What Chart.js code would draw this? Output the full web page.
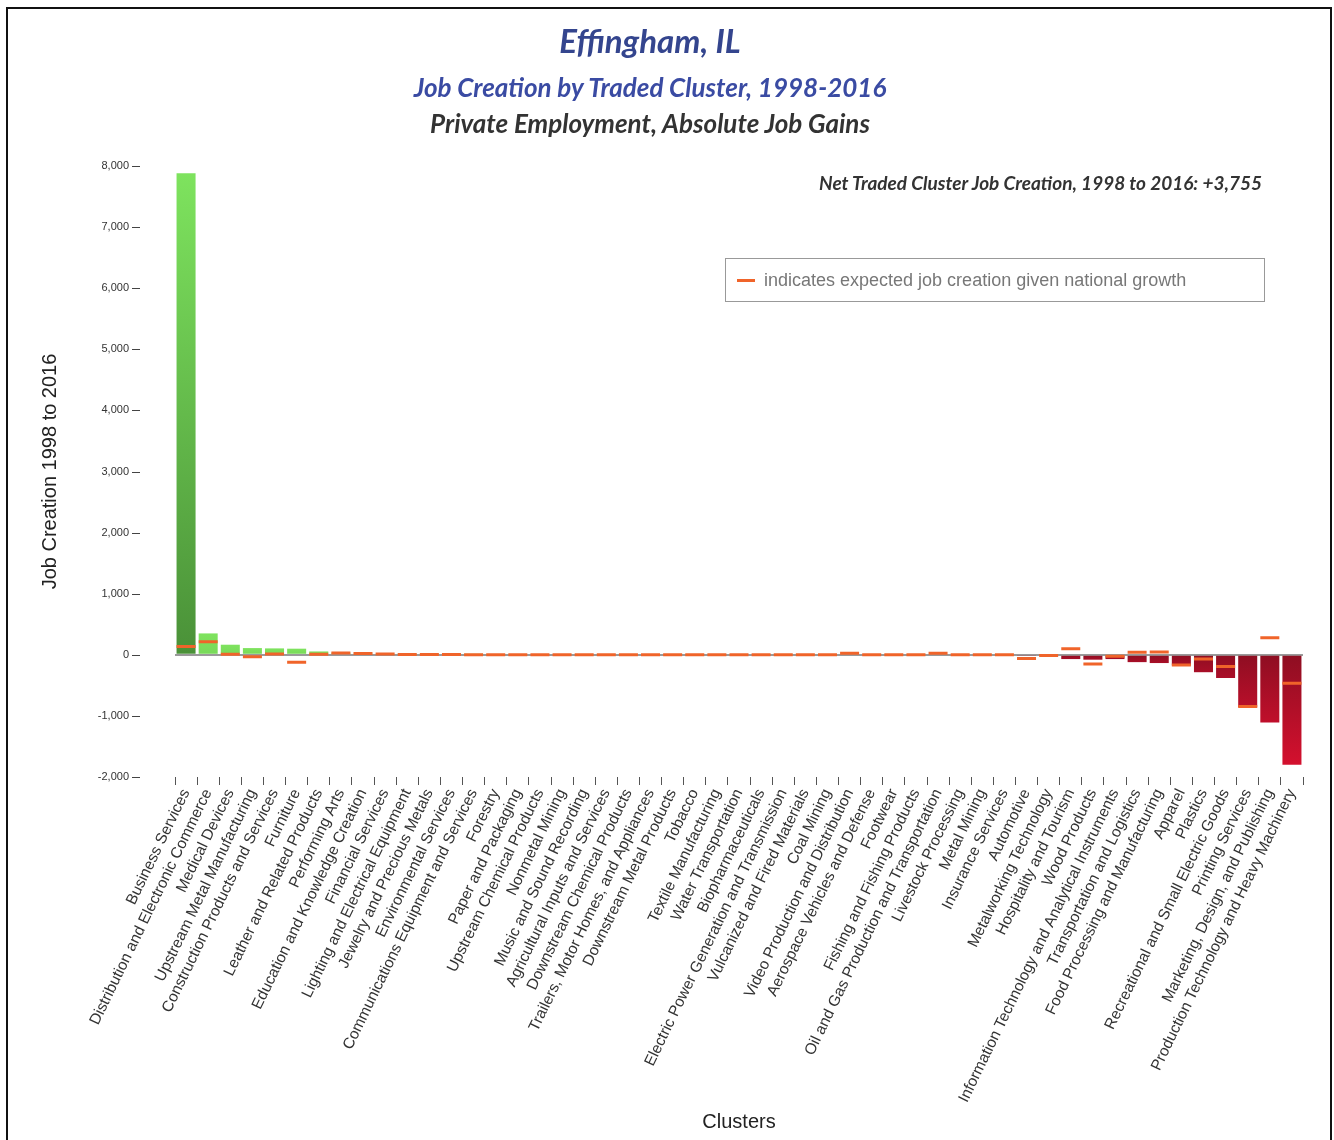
<!DOCTYPE html>
<html>
<head>
<meta charset="utf-8">
<script src="https://cdn.jsdelivr.net/npm/chart.js@4.4.1/dist/chart.umd.min.js"></script>
<style>
  html, body { margin: 0; padding: 0; background: #fff; }
  #wrap { position: relative; width: 1334px; height: 1140px; overflow: hidden; }
  #frame { position: absolute; left: 6px; top: 7px; width: 1326px; height: 1140px; border: 2px solid #111; box-sizing: border-box; }
  canvas { position: absolute; left: 0; top: 0; }
  .t { position: absolute; left: 0; width: 1300px; text-align: center; font-family: Lato, sans-serif; font-style: italic; font-weight: bold; white-space: nowrap; }
  #t1 { top: 21px; font-size: 33px; color: #34458e; line-height: 38px; }
  #t2 { top: 72px; font-size: 26px; color: #3a4ba3; line-height: 30px; }
  #t3 { top: 108px; font-size: 26px; color: #333; line-height: 30px; }
  #net { position: absolute; right: 72px; top: 172px; font-family: Lato, sans-serif; font-style: italic; font-weight: bold; font-size: 19px; color: #333; line-height: 22px; white-space: nowrap; }
  #key { position: absolute; left: 725px; top: 258px; width: 540px; height: 44px; border: 1px solid #999; box-sizing: border-box; font-family: "Liberation Sans", Arial, sans-serif; font-size: 18px; color: #777; }
  #key span.dash { position: absolute; left: 11px; top: 20px; width: 18px; height: 3px; background: #f0642a; }
  #key span.txt { position: absolute; left: 38px; top: 10px; line-height: 22px; }
</style>
</head>
<body>
<div id="wrap">
  <canvas id="chart" width="1334" height="1140"></canvas>
  <div id="frame"></div>
  <div class="t" id="t1">Effingham, IL</div>
  <div class="t" id="t2">Job Creation by Traded Cluster, 1998-2016</div>
  <div class="t" id="t3">Private Employment, Absolute Job Gains</div>
  <div id="net">Net Traded Cluster Job Creation, 1998 to 2016: +3,755</div>
  <div id="key"><span class="dash"></span><span class="txt">indicates expected job creation given national growth</span></div>
</div>
<script>
const clusters = [
  'Business Services', 'Distribution and Electronic Commerce', 'Medical Devices',
  'Upstream Metal Manufacturing', 'Construction Products and Services', 'Furniture',
  'Leather and Related Products', 'Performing Arts', 'Education and Knowledge Creation',
  'Financial Services', 'Lighting and Electrical Equipment', 'Jewelry and Precious Metals',
  'Environmental Services', 'Communications Equipment and Services', 'Forestry',
  'Paper and Packaging', 'Upstream Chemical Products', 'Nonmetal Mining',
  'Music and Sound Recording', 'Agricultural Inputs and Services', 'Downstream Chemical Products',
  'Trailers, Motor Homes, and Appliances', 'Downstream Metal Products', 'Tobacco',
  'Textile Manufacturing', 'Water Transportation', 'Biopharmaceuticals',
  'Electric Power Generation and Transmission', 'Vulcanized and Fired Materials', 'Coal Mining',
  'Video Production and Distribution', 'Aerospace Vehicles and Defense', 'Footwear',
  'Fishing and Fishing Products', 'Oil and Gas Production and Transportation', 'Livestock Processing',
  'Metal Mining', 'Insurance Services', 'Automotive',
  'Metalworking Technology', 'Hospitality and Tourism', 'Wood Products',
  'Information Technology and Analytical Instruments', 'Transportation and Logistics', 'Food Processing and Manufacturing',
  'Apparel', 'Plastics', 'Recreational and Small Electric Goods',
  'Printing Services', 'Marketing, Design, and Publishing', 'Production Technology and Heavy Machinery'
];

// actual job creation 1998-2016
const jobGains = [
  7880, 350, 165, 110, 105, 100, 55, 35, 20, 15,
  10, 8, 5, 2, 0, 0, 0, 0, 0, 0,
  0, 0, 0, 0, 0, 0, 0, 0, 0, 0,
  0, 0, 0, 0, 0, 0, 0, 0, -20, 0,
  -70, -80, -70, -120, -135, -175, -285, -380, -860, -1110,
  -1800
];

// expected job creation given national growth
const expectedGains = [
  135, 215, 10, -30, 15, -120, 10, 30, 20, 15,
  5, 5, 3, 2, 0, 0, 0, 0, 0, 0,
  0, 0, 0, 0, 0, 0, 0, 0, 0, 0,
  25, 0, 0, 0, 25, 0, 0, 0, -60, -10,
  100, -150, -25, 40, 45, -165, -70, -190, -845, 280,
  -465
];

const yTicks = [-2000, -1000, 0, 1000, 2000, 3000, 4000, 5000, 6000, 7000, 8000];

const maxPos = Math.max(...jobGains);
const maxNeg = Math.min(...jobGains);

function mix(a, b, t) {
  return 'rgb(' + a.map((v, i) => Math.round(v + (b[i] - v) * t)).join(',') + ')';
}

function barFill(ctx) {
  const chart = ctx.chart;
  const area = chart.chartArea;
  const v = ctx.parsed ? ctx.parsed.y : 0;
  if (!area) return v >= 0 ? '#7ade5c' : '#b5102a';
  const y = chart.scales.y;
  const y0 = y.getPixelForValue(0);
  const y1 = y.getPixelForValue(v);
  if (y0 === y1) return '#7ade5c';
  const g = chart.ctx.createLinearGradient(0, Math.min(y0, y1), 0, Math.max(y0, y1));
  if (v >= 0) {
    const t = v / maxPos;
    g.addColorStop(0, '#7ee35e');
    g.addColorStop(1, mix([126, 227, 94], [74, 145, 56], Math.max(t, 0.12)));
  } else {
    const t = v / maxNeg;
    g.addColorStop(0, '#8e0e22');
    g.addColorStop(1, mix([160, 14, 38], [212, 16, 46], Math.max(t, 0.15)));
  }
  return g;
}

// short dashes beside y tick labels
const yDashes = {
  id: 'yDashes',
  afterDraw(chart) {
    const c = chart.ctx, y = chart.scales.y, left = chart.chartArea.left;
    c.save();
    c.strokeStyle = '#444';
    c.lineWidth = 1;
    y.ticks.forEach((t, i) => {
      const py = Math.round(y.getPixelForTick(i)) + 0.5;
      c.beginPath();
      c.moveTo(left - 43, py);
      c.lineTo(left - 35, py);
      c.stroke();
    });
    c.restore();
  }
};

const sans = '"Liberation Sans", Arial, sans-serif';

new Chart(document.getElementById('chart').getContext('2d'), {
  data: {
    labels: clusters,
    datasets: [{
      type: 'line',
      label: 'Expected',
      data: expectedGains,
      showLine: false,
      pointStyle: 'line',
      pointRadius: 9.5,
      pointHoverRadius: 9.5,
      pointBorderWidth: 3,
      borderColor: '#f0642a',
      backgroundColor: '#f0642a',
      order: 0
    }, {
      type: 'bar',
      label: 'Job Creation',
      data: jobGains,
      backgroundColor: barFill,
      categoryPercentage: 1,
      barPercentage: 0.86,
      order: 1
    }]
  },
  options: {
    responsive: false,
    animation: false,
    layout: { padding: { top: 166, left: 0, right: 31, bottom: 6 } },
    plugins: {
      legend: { display: false },
      tooltip: { enabled: false }
    },
    scales: {
      x: {
        type: 'category',
        afterFit: s => { s.height = 357; s.paddingLeft = 0; s.paddingRight = 0; },
        border: { display: false },
        grid: { drawOnChartArea: false, tickLength: 8, color: '#555' },
        ticks: {
          autoSkip: false, minRotation: 64, maxRotation: 64, padding: 1,
          color: '#333', font: { family: sans, size: 15.5 }
        },
        title: {
          display: true, text: 'Clusters', color: '#222', padding: { top: 4, bottom: 0 },
          font: { family: sans, size: 20 }
        }
      },
      y: {
        min: -2000,
        max: 8000,
        afterBuildTicks: s => { s.ticks = yTicks.map(v => ({ value: v })); },
        afterFit: s => { s.width = 175; },
        border: { display: false },
        grid: {
          drawTicks: false,
          color: ctx => (ctx.tick && ctx.tick.value === 0) ? '#9a9a9a' : 'transparent',
          lineWidth: 2
        },
        ticks: {
          padding: 46, color: '#333',
          font: { family: sans, size: 11 },
          callback: v => v.toLocaleString('en-US')
        },
        title: {
          display: true, text: 'Job Creation 1998 to 2016', color: '#222', padding: { top: 38, bottom: 0 },
          font: { family: sans, size: 20 }
        }
      }
    }
  },
  plugins: [yDashes]
});
</script>
</body>
</html>
